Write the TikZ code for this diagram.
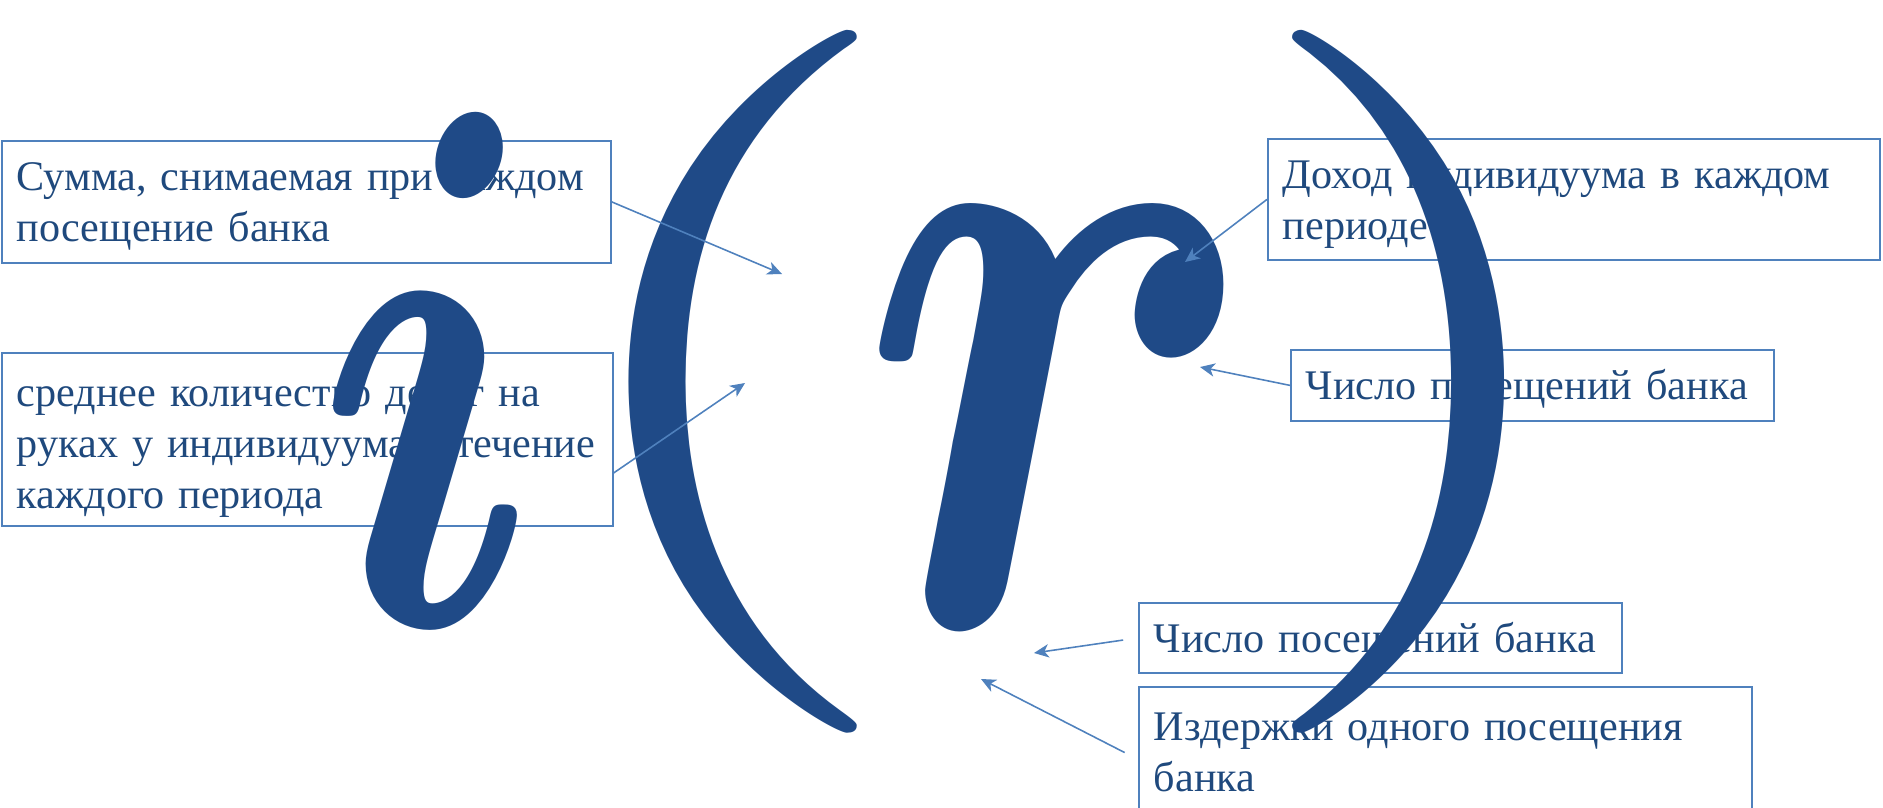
\documentclass[tikz,border=0pt]{standalone}
\usepackage{fontspec}
\setmainfont{Liberation Serif}
\usepackage{graphicx}
\usetikzlibrary{arrows.meta}

\definecolor{notebox}{HTML}{4F81BD}
\definecolor{notetext}{HTML}{1F497D}
\definecolor{formula}{HTML}{1F4A87}

\newcommand{\bigsym}[3]{\scalebox{#1}[#2]{$#3$}}

\begin{document}
\begin{tikzpicture}[
    note/.style={draw=notebox, line width=0.5pt, text=notetext, anchor=north west,
      align=left, inner xsep=1.5mm, inner ysep=0pt, text height=5mm,
      font=\fontsize{12}{14.5}\selectfont},
    glyph/.style={text=formula, inner sep=0pt},
    letter/.style={glyph, anchor=base, font=\boldmath},
    pointer/.style={draw=notebox, line width=0.45pt,
      -{Stealth[length=4.2pt, width=3.8pt, inset=1.2pt]}}
  ]
  \useasboundingbox (0, 0) rectangle (18.83, 8.07);
  % the boxes
  \node[note, text width=5.79cm, text depth=0.72cm] (sum) at (0.01, 6.67)
    {Сумма, снимаемая при каждом\\посещение банка};
  \node[note, text width=5.81cm, text height=5.4mm, text depth=1.19cm] (avg) at (0.01, 4.55)
    {среднее количество денег на\\руках у индивидуума в течение\\каждого периода};
  \node[note, text width=5.82cm, text depth=0.71cm] (inc) at (12.67, 6.69)
    {Доход индивидуума в каждом\\периоде};
  \node[note, text width=4.53cm, text depth=0.21cm] (vis1) at (12.90, 4.58)
    {Число посещений банка};
  \node[note, text width=4.53cm, text depth=0.20cm] (vis2) at (11.38, 2.05)
    {Число посещений банка};
  \node[note, text width=5.83cm, text height=5.4mm, text depth=0.91cm] (cost) at (11.38, 1.21)
    {Издержки одного посещения\\банка};
  % the formula
  \node[letter] (ii) at (4.29, 1.83) {\bigsym{16}{21}{i}};
  \node[glyph] (lpar) at (7.23, 4.255) {\bigsym{28}{20}{(}};
  \node[letter] (rr) at (10.60, 1.83) {\bigsym{20.7}{26.5}{r}};
  \node[glyph] (rpar) at (14.18, 4.255) {\bigsym{26}{20}{)}};
  % what each box points at
  \coordinate (sumtip) at (7.82, 5.33);
  \coordinate (avgtip) at (7.45, 4.24);
  \coordinate (inctip) at (11.85, 5.45);
  \coordinate (vis1tip) at (12.00, 4.40);
  \coordinate (vis2tip) at (10.34, 1.54);
  \coordinate (costtip) at (9.81, 1.28);
  \draw[pointer] (sum.east) -- (sumtip);
  \draw[pointer] ([yshift=-3.35mm]avg.east) -- (avgtip);
  \draw[pointer] (inc.west) -- (inctip);
  \draw[pointer] (vis1.west) -- (vis1tip);
  \draw[pointer, shorten <=1.5mm] (vis2.west) -- (vis2tip);
  \draw[pointer, shorten <=1.5mm] (cost.west) -- (costtip);
\end{tikzpicture}
\end{document}
